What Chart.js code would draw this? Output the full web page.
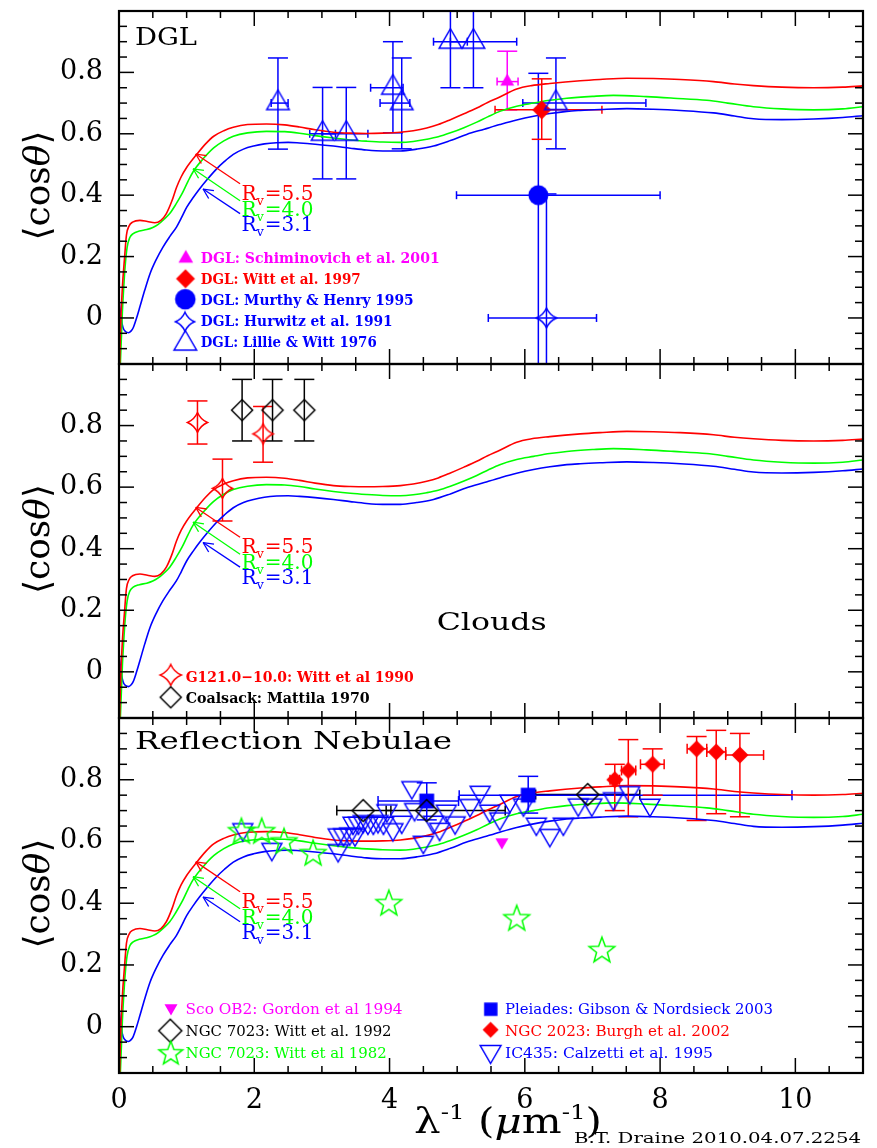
<!DOCTYPE html>
<html><head><meta charset="utf-8">
<script src="https://cdn.jsdelivr.net/npm/chart.js@4.4.1/dist/chart.umd.min.js"></script>
<style>
html,body{margin:0;padding:0;background:#fff;}
#wrap{position:relative;width:877px;height:1148px;overflow:hidden;background:#fff;}
canvas{position:absolute;left:0;top:0;}
</style></head><body>
<div id="wrap">
<canvas id="c1" width="877" height="1148"></canvas>
<canvas id="c2" width="877" height="1148"></canvas>
<canvas id="c3" width="877" height="1148"></canvas>
</div>
<script>
// ---------------- DATA ----------------
const xTickVals = [0, 2, 4, 6, 8, 10];
const xTickLabels = ['0', '2', '4', '6', '8', '10'];
const yTickVals = [0, 0.2, 0.4, 0.6, 0.8];
const yTickLabels = ['0', '0.2', '0.4', '0.6', '0.8'];

// model curves <cos theta> vs 1/lambda
const rv55X = [0.0,0.02,0.05,0.08,0.11,0.15,0.2,0.31,0.42,0.53,0.62,0.70,0.78,0.85,0.92,1.0,1.15,1.28,1.4,1.55,1.69,1.9,2.18,2.45,2.67,2.9,3.17,3.42,3.66,3.9,4.16,4.35,4.55,4.72,4.9,5.1,5.29,5.45,5.63,5.88,6.1,6.37,6.82,7.11,7.51,7.9,8.3,8.79,9.1,9.38,9.8,10.27,10.7,11.0];
const rv55Y = [-0.25,-0.05,0.1,0.19,0.27,0.3,0.312,0.318,0.314,0.31,0.318,0.34,0.38,0.425,0.46,0.49,0.533,0.567,0.592,0.61,0.621,0.63,0.632,0.629,0.622,0.613,0.605,0.602,0.601,0.602,0.605,0.61,0.619,0.63,0.646,0.665,0.684,0.702,0.72,0.746,0.757,0.764,0.773,0.777,0.781,0.78,0.777,0.77,0.762,0.757,0.752,0.75,0.752,0.756];
const rv40X = [0.0,0.02,0.05,0.07,0.09,0.12,0.16,0.21,0.3,0.41,0.5,0.58,0.66,0.75,0.84,0.93,1.02,1.1,1.25,1.4,1.55,1.69,1.9,2.18,2.45,2.67,2.9,3.17,3.42,3.66,3.9,4.16,4.35,4.55,4.72,4.9,5.1,5.29,5.45,5.63,5.88,6.13,6.37,6.62,7.0,7.31,7.8,8.2,8.69,9.0,9.38,9.8,10.27,10.7,11.0];
const rv40Y = [-0.3,-0.15,0.02,0.1,0.167,0.23,0.262,0.275,0.283,0.288,0.295,0.305,0.32,0.34,0.37,0.404,0.445,0.478,0.52,0.554,0.577,0.592,0.603,0.608,0.607,0.602,0.594,0.586,0.58,0.576,0.573,0.572,0.575,0.582,0.59,0.603,0.62,0.638,0.655,0.673,0.69,0.70,0.709,0.716,0.722,0.725,0.721,0.716,0.709,0.70,0.688,0.681,0.678,0.681,0.688];
const rv31X = [0.0,0.03,0.06,0.1,0.14,0.18,0.21,0.26,0.31,0.38,0.46,0.55,0.65,0.75,0.85,0.92,1.0,1.1,1.19,1.3,1.44,1.56,1.69,1.84,1.99,2.15,2.33,2.5,2.67,2.9,3.17,3.42,3.66,3.9,4.16,4.4,4.65,4.9,5.14,5.4,5.63,5.88,6.13,6.37,6.62,6.82,7.11,7.51,7.9,8.3,8.79,9.1,9.38,9.8,10.27,10.7,11.0];
const rv31Y = [0.06,0.0,-0.032,-0.045,-0.048,-0.042,-0.032,0.0,0.037,0.09,0.145,0.19,0.231,0.265,0.296,0.325,0.36,0.393,0.42,0.45,0.485,0.51,0.533,0.55,0.56,0.567,0.571,0.572,0.57,0.566,0.56,0.553,0.547,0.544,0.544,0.55,0.56,0.578,0.598,0.615,0.63,0.645,0.657,0.666,0.673,0.676,0.679,0.682,0.68,0.676,0.668,0.658,0.649,0.646,0.648,0.653,0.659];

// Panel 1: DGL
const lillieX   = [2.35, 3.01, 3.36, 4.05, 4.18, 4.90, 5.24, 6.46];
const lillieY   = [0.70, 0.60, 0.60, 0.75, 0.70, 0.90, 0.90, 0.70];
const lillieYlo = [0.55, 0.453, 0.453, 0.603, 0.551, 0.75, 0.75, 0.551];
const lillieYhi = [0.847, 0.751, 0.751, 0.90, 0.847, 1.06, 1.06, 0.847];
const lillieXlo = [2.25, 2.82, 3.00, 3.72, 3.86, 4.65, 4.90, 5.97];
const lillieXhi = [2.50, 3.20, 3.68, 4.20, 4.30, 5.15, 5.88, 7.79];
const hurwitzX = [6.32], hurwitzY = [0.0], hurwitzYlo = [-0.5], hurwitzYhi = [0.404], hurwitzXlo = [5.46], hurwitzXhi = [7.06];
const murthyX = [6.20], murthyY = [0.40], murthyYlo = [-0.5], murthyYhi = [0.797], murthyXlo = [4.99], murthyXhi = [8.0];
const schimX = [5.74], schimY = [0.77], schimYlo = [0.678], schimYhi = [0.869], schimXlo = [5.59], schimXhi = [5.90];
const witt97X = [6.25], witt97Y = [0.678], witt97Ylo = [0.582], witt97Yhi = [0.779], witt97Xlo = [5.56], witt97Xhi = [7.14];

// Panel 2: Clouds
const witt90X = [1.16, 1.53, 2.13], witt90Y = [0.81, 0.596, 0.773];
const witt90Ylo = [0.74, 0.49, 0.681], witt90Yhi = [0.88, 0.691, 0.862];
const mattilaX = [1.82, 2.27, 2.74], mattilaY = [0.85, 0.85, 0.85];
const mattilaYlo = [0.75, 0.75, 0.75], mattilaYhi = [0.95, 0.95, 0.95];

// Panel 3: Reflection nebulae
const gordonX = [5.66], gordonY = [0.598];
const witt92X = [3.61, 4.55, 6.93], witt92Y = [0.70, 0.70, 0.752];
const witt92Xlo = [3.22, 3.95, 6.16], witt92Xhi = [4.02, 5.71, 7.70];
const witt82X = [1.81, 2.11, 2.44, 2.87, 3.99, 5.88, 7.14];
const witt82Y = [0.636, 0.636, 0.603, 0.565, 0.403, 0.354, 0.251];
const pleiadesX = [4.55, 6.05], pleiadesY = [0.731, 0.75];
const pleiadesYlo = [0.67, 0.692], pleiadesYhi = [0.79, 0.811];
const pleiadesXlo = [3.83, 5.03], pleiadesXhi = [5.02, 9.95];
const burghX = [7.33, 7.53, 7.89, 8.54, 8.83, 9.18];
const burghY = [0.80, 0.83, 0.85, 0.90, 0.89, 0.88];
const burghYlo = [0.70, 0.68, 0.75, 0.668, 0.69, 0.68];
const burghYhi = [0.85, 0.93, 0.90, 0.94, 0.96, 0.95];
const burghXlo = [7.26, 7.43, 7.71, 8.40, 8.69, 8.97];
const burghXhi = [7.40, 7.64, 8.06, 8.69, 8.97, 9.53];
const calzX = [1.83, 2.26, 3.24, 3.24, 3.32, 3.41, 3.49, 3.46, 3.54, 3.61, 3.68, 3.76, 3.83, 3.91, 3.96, 4.05, 4.18, 4.33, 4.37, 4.50, 4.65, 4.74, 4.84, 4.97, 5.19, 5.34, 5.48, 5.63, 5.78, 5.98, 6.17, 6.37, 6.57, 6.79, 6.99, 7.31, 7.55, 7.85];
const calzY = [0.639, 0.575, 0.571, 0.622, 0.622, 0.625, 0.622, 0.66, 0.66, 0.665, 0.66, 0.66, 0.665, 0.66, 0.70, 0.639, 0.663, 0.775, 0.704, 0.598, 0.663, 0.64, 0.699, 0.661, 0.717, 0.76, 0.699, 0.674, 0.731, 0.719, 0.657, 0.62, 0.657, 0.719, 0.719, 0.739, 0.759, 0.718];

// ---------------- STYLE HELPERS ----------------
const RED = '#ff0000', GREEN = '#00ff00', BLUE = '#0000ff', MAG = '#ff00ff', BLACK = '#000000';
const SERIF = "'DejaVu Serif', 'Liberation Serif', serif";

function marker(type, r, color, filled, lw) {
  lw = lw || 1.5;
  const S = Math.ceil(2 * r + 2 * lw + 4);
  const c = document.createElement('canvas'); c.width = S; c.height = S;
  const g = c.getContext('2d'); const cx = S / 2, cy = S / 2;
  g.beginPath();
  if (type === 'tri') { g.moveTo(cx, cy - r); g.lineTo(cx + 0.866 * r, cy + 0.5 * r); g.lineTo(cx - 0.866 * r, cy + 0.5 * r); g.closePath(); }
  else if (type === 'tridown') { g.moveTo(cx, cy + r); g.lineTo(cx + 0.866 * r, cy - 0.5 * r); g.lineTo(cx - 0.866 * r, cy - 0.5 * r); g.closePath(); }
  else if (type === 'diamond') { g.moveTo(cx, cy - r); g.lineTo(cx + r, cy); g.lineTo(cx, cy + r); g.lineTo(cx - r, cy); g.closePath(); }
  else if (type === 'square') { const h = r * 0.7071; g.rect(cx - h, cy - h, 2 * h, 2 * h); }
  else if (type === 'circle') { g.arc(cx, cy, r, 0, 2 * Math.PI); }
  else if (type === 'star4') {
    const k = 0.3 * r;
    g.moveTo(cx, cy - r);
    g.quadraticCurveTo(cx + k, cy - k, cx + r, cy);
    g.quadraticCurveTo(cx + k, cy + k, cx, cy + r);
    g.quadraticCurveTo(cx - k, cy + k, cx - r, cy);
    g.quadraticCurveTo(cx - k, cy - k, cx, cy - r);
    g.closePath();
  } else if (type === 'star5') {
    for (let k = 0; k < 10; k++) {
      const a = -Math.PI / 2 + k * Math.PI / 5; const rr = (k % 2) ? r * 0.42 : r;
      const px = cx + rr * Math.cos(a), py = cy + 1.5 + rr * Math.sin(a);
      if (k === 0) g.moveTo(px, py); else g.lineTo(px, py);
    }
    g.closePath();
  }
  if (filled) { g.fillStyle = color; g.fill(); } else { g.strokeStyle = color; g.lineWidth = lw; g.lineJoin = 'miter'; g.stroke(); }
  return c;
}

const M = {
  lillie: marker('tri', 13, BLUE, false),
  schim: marker('tri', 8, MAG, true),
  witt97: marker('diamond', 9.5, RED, true),
  murthy: marker('circle', 10, BLUE, true),
  hurwitz: marker('star4', 10, BLUE, false),
  witt90: marker('star4', 10, RED, false),
  mattila: marker('diamond', 10.5, BLACK, false),
  gordon: marker('tridown', 7.5, MAG, true),
  witt92: marker('diamond', 11, BLACK, false),
  witt82: marker('star5', 13.5, GREEN, false),
  pleiades: marker('square', 10.5, BLUE, true),
  burgh: marker('diamond', 8.5, RED, true),
  calz: marker('tridown', 11.5, BLUE, false)
};
const L = {
  lillie: marker('tri', 13, BLUE, false),
  schim: marker('tri', 8.5, MAG, true),
  witt97: marker('diamond', 9.5, RED, true),
  murthy: marker('circle', 10.3, BLUE, true),
  hurwitz: marker('star4', 9.5, BLUE, false),
  witt90: marker('star4', 10.5, RED, false),
  mattila: marker('diamond', 10.5, BLACK, false),
  gordon: marker('tridown', 7.5, MAG, true),
  witt92: marker('diamond', 11.5, BLACK, false),
  witt82: marker('star5', 12.5, GREEN, false),
  pleiades: marker('square', 9.5, BLUE, true),
  burgh: marker('diamond', 8, RED, true),
  calz: marker('tridown', 12, BLUE, false)
};

function pts(xs, ys) { return xs.map((x, i) => ({ x: x, y: ys[i] })); }
function curves() {
  const mk = (xs, ys, col) => ({ data: pts(xs, ys), showLine: true, borderColor: col, borderWidth: 1.6, pointRadius: 0, cubicInterpolationMode: 'monotone', order: 10 });
  return [mk(rv55X, rv55Y, RED), mk(rv40X, rv40Y, GREEN), mk(rv31X, rv31Y, BLUE)];
}
function ptSet(xs, ys, img, errs) {
  return { data: pts(xs, ys), pointStyle: img, pointRadius: 10, pointHoverRadius: 10, order: 0, errs: errs || null, backgroundColor: 'rgba(0,0,0,0)', borderColor: 'rgba(0,0,0,0)' };
}

// ---------------- PANEL DECORATION ----------------
const rvArrows = [
  { col: RED, from: [1.79, 0.437], to: [1.135, 0.534], txt: '5.5', tx: 1.81, ty: 0.385 },
  { col: GREEN, from: [1.79, 0.382], to: [1.095, 0.486], txt: '4.0', tx: 1.81, ty: 0.333 },
  { col: BLUE, from: [1.79, 0.34], to: [1.243, 0.42], txt: '3.1', tx: 1.81, ty: 0.284 }
];

const panelCfg = {
  c1: {
    title: { text: 'DGL', x: 135, y: 45, w: 62 },
    legFont: 'bold 15px ' + SERIF,
    legend: [
      { m: L.schim, mx: 185.8, my: 258.4, t: 'DGL: Schiminovich et al. 2001', c: MAG, tx: 200.7, ty: 262.7, w: 239 },
      { m: L.witt97, mx: 185.5, my: 278.7, t: 'DGL: Witt et al. 1997', c: RED, tx: 200.7, ty: 284.3, w: 160 },
      { m: L.murthy, mx: 185.3, my: 299.2, t: 'DGL: Murthy & Henry 1995', c: BLUE, tx: 200.7, ty: 305, w: 213 },
      { m: L.hurwitz, mx: 185, my: 321.7, t: 'DGL: Hurwitz et al. 1991', c: BLUE, tx: 200.7, ty: 326, w: 192 },
      { m: L.lillie, mx: 185.3, my: 343.6, t: 'DGL: Lillie & Witt 1976', c: BLUE, tx: 200.7, ty: 347.3, w: 176 }
    ]
  },
  c2: {
    title: { text: 'Clouds', x: 436.7, y: 630, w: 110 },
    legFont: 'bold 15px ' + SERIF,
    legend: [
      { m: L.witt90, mx: 170.7, my: 675, t: 'G121.0\u221210.0: Witt et al 1990', c: RED, tx: 185.7, ty: 681.7, w: 228 },
      { m: L.mattila, mx: 170.7, my: 697.3, t: 'Coalsack: Mattila 1970', c: BLACK, tx: 185.7, ty: 703.3, w: 184 }
    ]
  },
  c3: {
    title: { text: 'Reflection Nebulae', x: 135, y: 749, w: 317 },
    legFont: '15px ' + SERIF,
    legend: [
      { m: L.gordon, mx: 171, my: 1008, t: 'Sco OB2: Gordon et al 1994', c: MAG, tx: 185.6, ty: 1014.4, w: 217 },
      { m: L.witt92, mx: 170.3, my: 1030.7, t: 'NGC 7023: Witt et al. 1992', c: BLACK, tx: 185.6, ty: 1036.2, w: 206 },
      { m: L.witt82, mx: 170.8, my: 1052.2, t: 'NGC 7023: Witt et al 1982', c: GREEN, tx: 185.6, ty: 1058, w: 201 },
      { m: L.pleiades, mx: 490.8, my: 1009.2, t: 'Pleiades: Gibson & Nordsieck 2003', c: BLUE, tx: 505, ty: 1014.4, w: 268 },
      { m: L.burgh, mx: 490.6, my: 1029.8, t: 'NGC 2023: Burgh et al. 2002', c: RED, tx: 505, ty: 1036.2, w: 225 },
      { m: L.calz, mx: 490.6, my: 1051.5, t: 'IC435: Calzetti et al. 1995', c: BLUE, tx: 505, ty: 1058, w: 208 }
    ],
    xtitle: true
  }
};

function fitText(ctx, text, x, y, w, font, color) {
  ctx.save(); ctx.font = font; ctx.fillStyle = color; ctx.textAlign = 'left'; ctx.textBaseline = 'alphabetic';
  const m = ctx.measureText(text).width;
  ctx.translate(x, y); ctx.scale(w ? w / m : 1, 1);
  ctx.fillText(text, 0, 0);
  ctx.restore();
}
function seg(ctx, x1, y1, x2, y2) { ctx.beginPath(); ctx.moveTo(x1, y1); ctx.lineTo(x2, y2); ctx.stroke(); }

const decor = {
  id: 'decor',
  beforeDatasetsDraw(chart) {
    const { ctx, chartArea: a, scales: { x, y } } = chart;
    ctx.save();
    ctx.beginPath(); ctx.rect(a.left, a.top, a.right - a.left, a.bottom - a.top); ctx.clip();
    ctx.lineWidth = 1.5;
    chart.data.datasets.forEach(ds => {
      const e = ds.errs; if (!e) return;
      ctx.strokeStyle = e.color;
      ds.data.forEach((p, j) => {
        const px = x.getPixelForValue(p.x), py = y.getPixelForValue(p.y);
        if (e.ylo) {
          const y1 = y.getPixelForValue(e.ylo[j]), y2 = y.getPixelForValue(e.yhi[j]);
          seg(ctx, px, y1, px, y2);
          seg(ctx, px - e.capW, y1, px + e.capW, y1);
          seg(ctx, px - e.capW, y2, px + e.capW, y2);
        }
        if (e.xlo) {
          const x1 = x.getPixelForValue(e.xlo[j]), x2 = x.getPixelForValue(e.xhi[j]);
          seg(ctx, x1, py, x2, py);
          seg(ctx, x1, py - e.capH, x1, py + e.capH);
          seg(ctx, x2, py - e.capH, x2, py + e.capH);
        }
      });
    });
    ctx.restore();
  },
  afterDraw(chart) {
    const { ctx, chartArea: a, scales: { x, y } } = chart;
    const cfg = panelCfg[chart.canvas.id];
    ctx.save();
    // ticks
    ctx.strokeStyle = '#000'; ctx.lineWidth = 1.5;
    for (let k = -3; k <= 20; k++) {
      const v = k * 0.05; if (v <= y.min + 1e-6 || v >= y.max - 1e-6) continue;
      const py = y.getPixelForValue(v); const Lt = (k % 4 === 0) ? 15 : 8;
      seg(ctx, a.left, py, a.left + Lt, py); seg(ctx, a.right, py, a.right - Lt, py);
    }
    for (let k = 1; k < 22; k++) {
      const px = x.getPixelForValue(k * 0.5); const Lt = (k % 4 === 0) ? 15 : 7;
      seg(ctx, px, a.top, px, a.top + Lt); seg(ctx, px, a.bottom, px, a.bottom - Lt);
    }
    ctx.lineWidth = 2.2; ctx.strokeRect(a.left, a.top, a.right - a.left, a.bottom - a.top);

    // Rv arrows and labels
    rvArrows.forEach(r => {
      const x1 = x.getPixelForValue(r.from[0]), y1 = y.getPixelForValue(r.from[1]);
      const x2 = x.getPixelForValue(r.to[0]), y2 = y.getPixelForValue(r.to[1]);
      ctx.strokeStyle = r.col; ctx.lineWidth = 1.3;
      seg(ctx, x1, y1, x2, y2);
      const ang = Math.atan2(y1 - y2, x1 - x2);
      [0.45, -0.45].forEach(d => seg(ctx, x2, y2, x2 + 11 * Math.cos(ang + d), y2 + 11 * Math.sin(ang + d)));
      const tx = x.getPixelForValue(r.tx), ty = y.getPixelForValue(r.ty);
      ctx.fillStyle = r.col; ctx.textBaseline = 'alphabetic'; ctx.textAlign = 'left';
      ctx.font = '20px ' + SERIF; ctx.fillText('R', tx, ty);
      let cx = tx + ctx.measureText('R').width;
      ctx.font = '13px ' + SERIF; ctx.fillText('v', cx, ty + 5);
      cx += ctx.measureText('v').width + 1;
      ctx.font = '20px ' + SERIF; ctx.fillText('=' + r.txt, cx, ty);
    });

    // title
    fitText(ctx, cfg.title.text, cfg.title.x, cfg.title.y, cfg.title.w, '25px ' + SERIF, '#000');

    // legend
    cfg.legend.forEach(it => {
      ctx.drawImage(it.m, it.mx - it.m.width / 2, it.my - it.m.height / 2);
      fitText(ctx, it.t, it.tx, it.ty, it.w, cfg.legFont, it.c);
    });

    // y-axis title
    const cyT = (a.top + a.bottom) / 2 - 2;
    ctx.save(); ctx.translate(49, cyT); ctx.rotate(-Math.PI / 2);
    ctx.fillStyle = '#000'; ctx.textBaseline = 'alphabetic'; ctx.textAlign = 'left';
    const parts = [['\u27E8', '36px ' + SERIF], ['cos', '36px ' + SERIF], ['\u03B8', 'italic 36px ' + SERIF], ['\u27E9', '36px ' + SERIF]];
    let tw = 0; parts.forEach(p => { ctx.font = p[1]; tw += ctx.measureText(p[0]).width; });
    let cx = -tw / 2;
    parts.forEach(p => { ctx.font = p[1]; ctx.fillText(p[0], cx, 0); cx += ctx.measureText(p[0]).width; });
    ctx.restore();

    if (cfg.xtitle) {
      const xp = [['\u03BB', '36px ' + SERIF, 0], ['-1', '21px ' + SERIF, -14], [' (', '36px ' + SERIF, 0], ['\u03BC', 'italic 36px ' + SERIF, 0], ['m', '36px ' + SERIF, 0], ['-1', '21px ' + SERIF, -14], [')', '36px ' + SERIF, 0]];
      let w = 0; xp.forEach(p => { ctx.font = p[1]; w += ctx.measureText(p[0]).width; });
      ctx.save(); ctx.translate(414, 1133); ctx.scale(188 / w, 1);
      ctx.fillStyle = '#000'; ctx.textAlign = 'left'; ctx.textBaseline = 'alphabetic';
      let xx = 0; xp.forEach(p => { ctx.font = p[1]; ctx.fillText(p[0], xx, p[2]); xx += ctx.measureText(p[0]).width; });
      ctx.restore();
      fitText(ctx, 'B.T. Draine 2010.04.07.2254', 574, 1143, 287, '15px ' + SERIF, '#000');
    }
    ctx.restore();
  }
};

// ---------------- CHARTS ----------------
function makeChart(id, top, bottom, showX, datasets) {
  return new Chart(document.getElementById(id), {
    type: 'scatter',
    data: { datasets: datasets },
    plugins: [decor],
    options: {
      responsive: false, animation: false, devicePixelRatio: 1, events: [],
      layout: { padding: { left: 0, right: 14, top: top, bottom: showX ? 0 : 1148 - bottom } },
      plugins: { legend: { display: false }, tooltip: { enabled: false } },
      scales: {
        x: {
          type: 'linear', min: 0, max: 11, display: showX,
          afterBuildTicks: s => { s.ticks = xTickVals.map(v => ({ value: v })); },
          ticks: { callback: (v, i) => xTickLabels[i], font: { family: SERIF, size: 27 }, color: '#000', padding: 12, maxRotation: 0, autoSkip: false },
          grid: { display: false, drawTicks: false }, border: { display: false },
          afterFit: s => { if (showX) { s.height = 1148 - bottom; } else { s.height = 0; } s.paddingLeft = 0; s.paddingRight = 0; }
        },
        y: {
          type: 'linear', min: -0.15, max: 1.0,
          afterBuildTicks: s => { s.ticks = yTickVals.map(v => ({ value: v })); },
          ticks: { callback: (v, i) => yTickLabels[i], font: { family: SERIF, size: 27 }, color: '#000', padding: 16, autoSkip: false },
          grid: { display: false, drawTicks: false }, border: { display: false },
          afterFit: s => { s.width = 119; s.paddingTop = 0; s.paddingBottom = 0; }
        }
      }
    }
  });
}

const p1 = [
  ptSet(lillieX, lillieY, M.lillie, { color: BLUE, ylo: lillieYlo, yhi: lillieYhi, xlo: lillieXlo, xhi: lillieXhi, capW: 10, capH: 4 }),
  ptSet(hurwitzX, hurwitzY, M.hurwitz, { color: BLUE, ylo: hurwitzYlo, yhi: hurwitzYhi, xlo: hurwitzXlo, xhi: hurwitzXhi, capW: 10, capH: 4 }),
  ptSet(murthyX, murthyY, M.murthy, { color: BLUE, ylo: murthyYlo, yhi: murthyYhi, xlo: murthyXlo, xhi: murthyXhi, capW: 10, capH: 4 }),
  ptSet(schimX, schimY, M.schim, { color: MAG, ylo: schimYlo, yhi: schimYhi, xlo: schimXlo, xhi: schimXhi, capW: 10, capH: 4 }),
  ptSet(witt97X, witt97Y, M.witt97, { color: RED, ylo: witt97Ylo, yhi: witt97Yhi, xlo: witt97Xlo, xhi: witt97Xhi, capW: 10, capH: 4 })
].concat(curves());
const p2 = [
  ptSet(witt90X, witt90Y, M.witt90, { color: RED, ylo: witt90Ylo, yhi: witt90Yhi, capW: 10 }),
  ptSet(mattilaX, mattilaY, M.mattila, { color: BLACK, ylo: mattilaYlo, yhi: mattilaYhi, capW: 10 })
].concat(curves());
const p3 = [
  ptSet(gordonX, gordonY, M.gordon),
  ptSet(witt92X, witt92Y, M.witt92, { color: BLACK, xlo: witt92Xlo, xhi: witt92Xhi, capH: 5 }),
  ptSet(witt82X, witt82Y, M.witt82),
  ptSet(pleiadesX, pleiadesY, M.pleiades, { color: BLUE, ylo: pleiadesYlo, yhi: pleiadesYhi, xlo: pleiadesXlo, xhi: pleiadesXhi, capW: 10, capH: 5 }),
  ptSet(burghX, burghY, M.burgh, { color: RED, ylo: burghYlo, yhi: burghYhi, xlo: burghXlo, xhi: burghXhi, capW: 10, capH: 5 }),
  ptSet(calzX, calzY, M.calz)
].concat(curves());

makeChart('c1', 10, 364, false, p1);
makeChart('c2', 364, 718, false, p2);
makeChart('c3', 718, 1073, true, p3);
</script>
</body></html>
